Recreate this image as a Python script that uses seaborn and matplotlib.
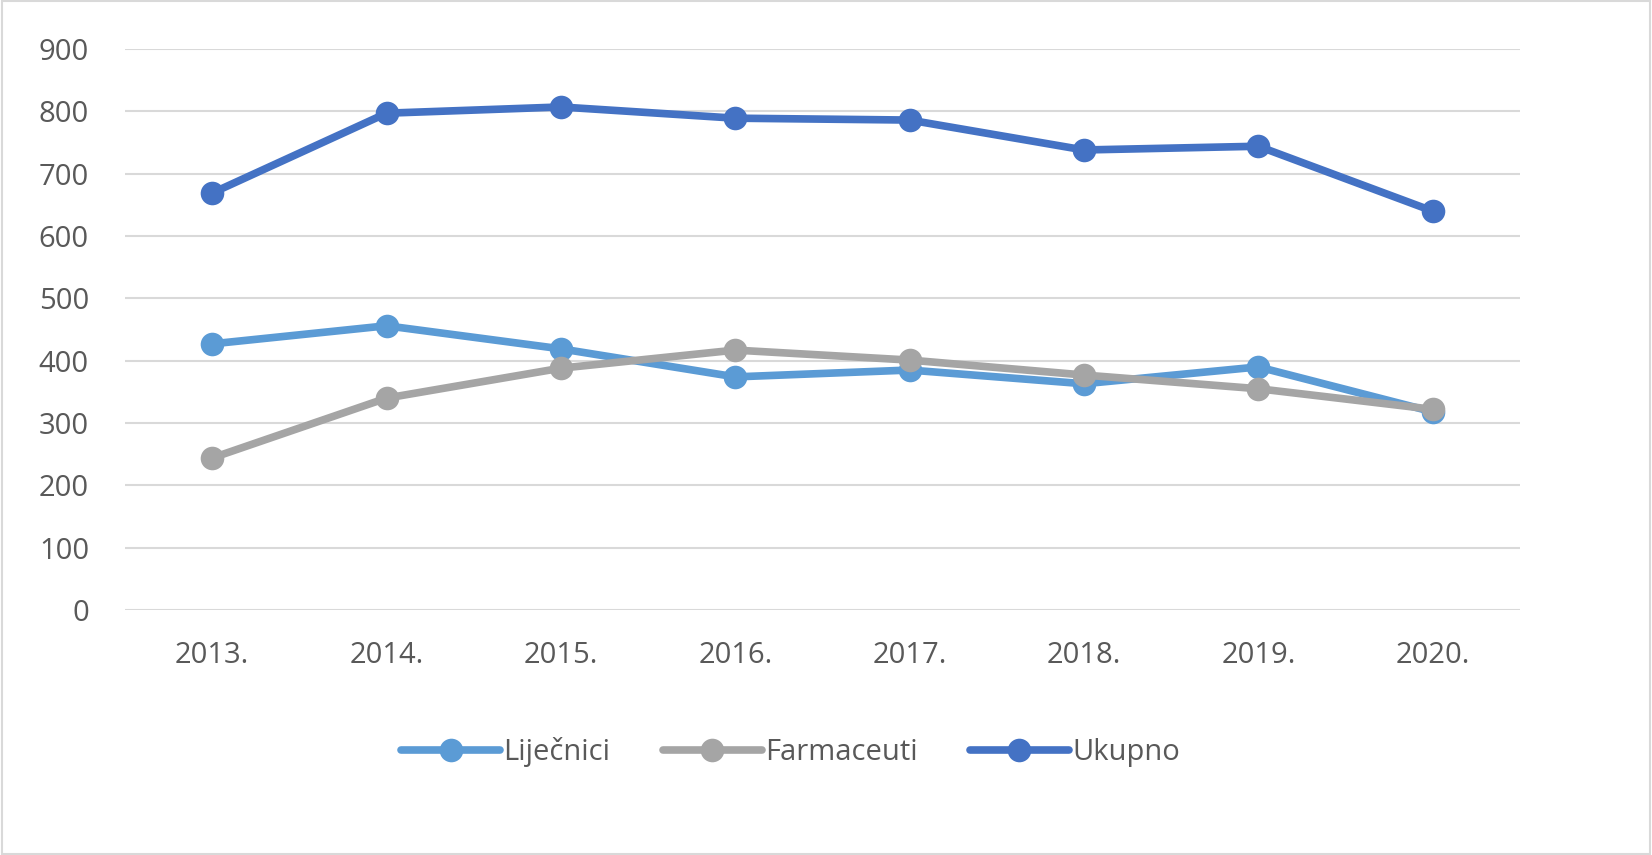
import pandas as pd
import matplotlib.pyplot as plt
import seaborn as sns

godine = ["2013.", "2014.", "2015.", "2016.", "2017.", "2018.", "2019.", "2020."]
lijecnici = [427, 456, 419, 374, 385, 363, 390, 318]
farmaceuti = [244, 340, 388, 417, 401, 377, 355, 322]
ukupno = [669, 797, 807, 789, 786, 738, 744, 640]

serije = ["Liječnici", "Farmaceuti", "Ukupno"]
boje = ["#5B9BD5", "#A5A5A5", "#4472C4"]

df = pd.DataFrame({"Liječnici": lijecnici, "Farmaceuti": farmaceuti, "Ukupno": ukupno})
df["x"] = range(len(godine))
df = df.melt(id_vars="x", var_name="serija", value_name="vrijednost")

sns.set_style("white")
plt.rcParams['font.family'] = ['Open Sans', 'DejaVu Sans']

fig = plt.figure(figsize=(16.52, 8.55), dpi=100)
ax = fig.add_axes([0.0757, 0.2865, 0.8443, 0.6562])

sns.lineplot(data=df, x="x", y="vrijednost", hue="serija", hue_order=serije,
             palette=boje, marker="o", markersize=17, markeredgewidth=0,
             linewidth=5.5, ax=ax)

ax.set_xlim(-0.5, len(godine) - 0.5)
ax.set_ylim(0, 900)
ax.set_yticks(range(0, 901, 100))
ax.set_xticks(range(len(godine)))
ax.set_xticklabels(godine)
ax.set_xlabel("")
ax.set_ylabel("")
ax.tick_params(axis="both", labelsize=21, colors="#595959", length=0)
ax.tick_params(axis="x", pad=22)
ax.tick_params(axis="y", pad=26)
ax.yaxis.grid(True, color="#D9D9D9", linewidth=1.5)
ax.set_axisbelow(True)
for s in ax.spines.values():
    s.set_visible(False)

ax.legend(loc="upper center", bbox_to_anchor=(0.477, -0.18), ncol=3, frameon=False,
          fontsize=21, labelcolor="#595959", handlelength=3.4, handletextpad=0.1,
          columnspacing=1.8)

fig.patches.append(plt.Rectangle((0.001, 0.001), 0.998, 0.998, transform=fig.transFigure,
                                 fill=False, edgecolor="#D9D9D9", linewidth=1.5))

fig.savefig("out.png", dpi=100)
